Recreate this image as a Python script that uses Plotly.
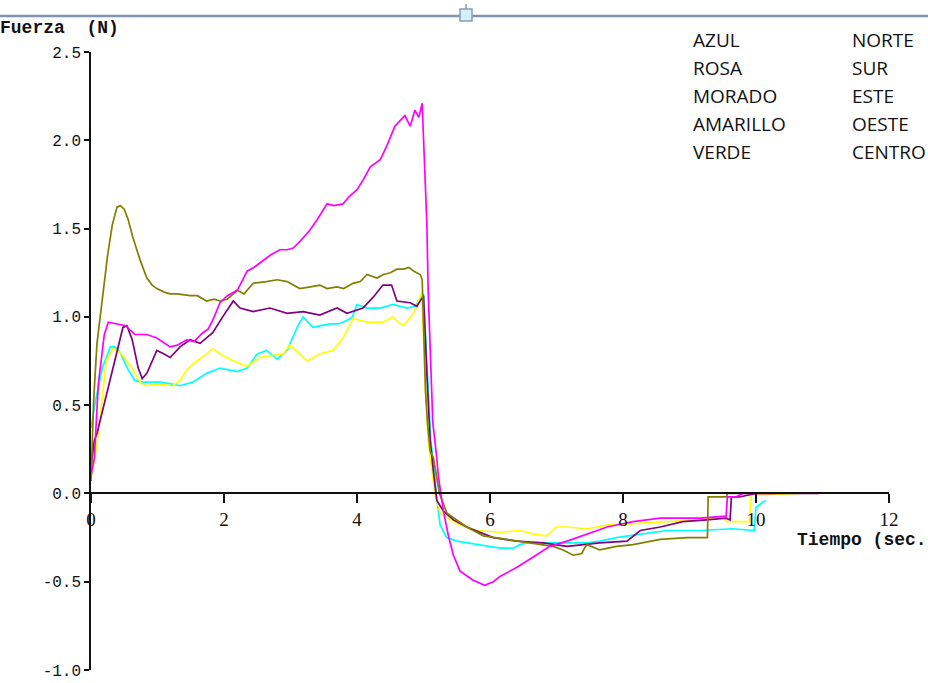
import plotly.graph_objects as go

# ---------------- data ----------------
azul_t = [0, 0.07, 0.17, 0.29, 0.36, 0.42, 0.47, 0.56, 0.66, 0.76, 0.9, 1.04, 1.2, 1.34, 1.53, 1.65, 1.74, 1.94,
          2.05, 2.2, 2.35, 2.5, 2.64, 2.8, 2.95, 3.1, 3.19, 3.27, 3.34, 3.45, 3.6, 3.72, 3.85, 3.93, 4.0, 4.15,
          4.35, 4.54, 4.75, 4.88, 4.95, 5.0, 5.03, 5.07, 5.11, 5.17, 5.2, 5.25, 5.35, 5.5, 5.8, 6.15, 6.35, 6.45,
          6.55, 6.8, 7.16, 7.46, 7.65, 7.9, 8.26, 8.66, 9.16, 9.65, 9.97, 10.0, 10.1, 10.15]
azul_y = [0.37, 0.53, 0.71, 0.83, 0.83, 0.81, 0.77, 0.70, 0.64, 0.63, 0.63, 0.63, 0.62, 0.61, 0.63, 0.66, 0.68, 0.71,
          0.70, 0.69, 0.71, 0.79, 0.81, 0.76, 0.81, 0.94, 1.0, 0.97, 0.94, 0.95, 0.96, 0.96, 0.98, 1.0, 1.07, 1.05,
          1.05, 1.07, 1.05, 1.06, 1.11, 1.13, 0.9, 0.68, 0.3, 0.1, -0.03, -0.18, -0.25, -0.27, -0.29, -0.31, -0.31, -0.29,
          -0.28, -0.28, -0.28, -0.28, -0.27, -0.25, -0.23, -0.21, -0.21, -0.20, -0.21, -0.08, -0.05, -0.04]

rosa_t = [0, 0.05, 0.11, 0.2, 0.26, 0.4, 0.52, 0.66, 0.84, 0.99, 1.1, 1.19, 1.3, 1.44, 1.55, 1.68, 1.76, 1.83, 1.94,
          2.05, 2.2, 2.35, 2.45, 2.59, 2.7, 2.84, 2.95, 3.04, 3.15, 3.29, 3.4, 3.55, 3.65, 3.79, 3.88, 4.0, 4.1, 4.2,
          4.35, 4.45, 4.57, 4.72, 4.8, 4.87, 4.93, 4.98, 5.02, 5.05, 5.07, 5.1, 5.14, 5.2, 5.22, 5.26, 5.3, 5.38,
          5.45, 5.55, 5.74, 5.92, 6.05, 6.15, 6.4, 6.65, 6.9, 7.16, 7.45, 7.76, 8.15, 8.56, 8.9, 9.16, 9.5, 9.55,
          9.57, 9.7, 9.8, 10.0, 10.3]
rosa_y = [0.1, 0.2, 0.62, 0.9, 0.97, 0.96, 0.95, 0.9, 0.9, 0.88, 0.85, 0.83, 0.84, 0.87, 0.86, 0.91, 0.93, 0.98, 1.08,
          1.12, 1.15, 1.26, 1.28, 1.32, 1.35, 1.38, 1.38, 1.39, 1.43, 1.49, 1.55, 1.64, 1.63, 1.64, 1.68, 1.72, 1.78,
          1.85, 1.89, 1.97, 2.08, 2.14, 2.08, 2.17, 2.13, 2.21, 1.81, 1.53, 1.15, 0.77, 0.40, 0.2, 0.11, 0.0, -0.1,
          -0.25, -0.35, -0.44, -0.49, -0.52, -0.50, -0.47, -0.42, -0.36, -0.30, -0.27, -0.23, -0.19, -0.16, -0.14,
          -0.14, -0.14, -0.13, -0.13, -0.02, -0.02, 0.0, 0.0, 0.0]

morado_t = [0, 0.05, 0.09, 0.21, 0.36, 0.48, 0.54, 0.62, 0.71, 0.77, 0.84, 0.92, 0.99, 1.1, 1.19, 1.34, 1.49, 1.64,
            1.83, 1.98, 2.14, 2.24, 2.44, 2.69, 2.95, 3.19, 3.44, 3.7, 3.85, 4.09, 4.24, 4.39, 4.52, 4.6, 4.8, 4.9,
            4.95, 5.0, 5.05, 5.1, 5.15, 5.2, 5.3, 5.45, 5.65, 6.05, 6.4, 6.8, 7.16, 7.4, 7.65, 8.06, 8.26, 8.56,
            8.9, 9.26, 9.55, 9.61, 9.63, 9.75, 10.0, 10.5, 10.95]
morado_y = [0.15, 0.3, 0.34, 0.53, 0.75, 0.94, 0.95, 0.87, 0.71, 0.65, 0.68, 0.75, 0.81, 0.79, 0.77, 0.83, 0.87, 0.85,
            0.91, 1.0, 1.09, 1.05, 1.03, 1.05, 1.02, 1.03, 1.01, 1.05, 1.02, 1.05, 1.11, 1.18, 1.18, 1.09, 1.08, 1.06,
            1.09, 1.12, 0.68, 0.3, 0.12, -0.04, -0.1, -0.15, -0.19, -0.25, -0.27, -0.28, -0.30, -0.29, -0.28, -0.27,
            -0.21, -0.19, -0.16, -0.15, -0.14, -0.15, -0.02, -0.02, 0.0, 0.0, 0.0]

amarillo_t = [0, 0.06, 0.11, 0.18, 0.23, 0.33, 0.4, 0.5, 0.63, 0.74, 0.82, 0.99, 1.23, 1.34, 1.44, 1.59, 1.74, 1.83,
              1.94, 2.14, 2.35, 2.54, 2.74, 2.89, 2.99, 3.14, 3.25, 3.44, 3.64, 3.79, 3.94, 4.15, 4.39, 4.54, 4.62,
              4.7, 4.85, 4.97, 5.0, 5.03, 5.07, 5.12, 5.17, 5.25, 5.5, 5.8, 6.15, 6.45, 6.65, 6.85, 7.0, 7.16, 7.46,
              7.76, 8.15, 8.66, 9.16, 9.5, 9.56, 9.65, 9.9, 9.93, 10.2, 10.66]
amarillo_y = [0.09, 0.2, 0.34, 0.6, 0.75, 0.82, 0.81, 0.77, 0.70, 0.63, 0.61, 0.62, 0.61, 0.64, 0.70, 0.75, 0.79, 0.82,
              0.79, 0.75, 0.72, 0.77, 0.78, 0.79, 0.84, 0.79, 0.75, 0.79, 0.81, 0.88, 0.99, 0.97, 0.97, 1.0, 0.97,
              0.95, 1.02, 1.13, 0.9, 0.58, 0.3, 0.15, 0.0, -0.11, -0.17, -0.21, -0.22, -0.21, -0.23, -0.24, -0.19,
              -0.19, -0.20, -0.18, -0.17, -0.16, -0.15, -0.13, -0.16, -0.16, -0.16, -0.01, -0.005, 0.0]

verde_t = [0, 0.04, 0.09, 0.17, 0.25, 0.32, 0.39, 0.44, 0.5, 0.56, 0.63, 0.74, 0.84, 0.92, 0.99, 1.1, 1.19, 1.3,
           1.49, 1.6, 1.74, 1.85, 1.94, 2.05, 2.2, 2.3, 2.44, 2.64, 2.8, 2.95, 3.05, 3.14, 3.3, 3.44, 3.55, 3.7, 3.8,
           3.94, 4.05, 4.15, 4.3, 4.4, 4.5, 4.6, 4.7, 4.78, 4.85, 4.95, 4.98, 5.0, 5.03, 5.06, 5.1, 5.15, 5.2, 5.24,
           5.35, 5.5, 5.65, 5.9, 6.26, 6.65, 6.95, 7.1, 7.25, 7.38, 7.42, 7.46, 7.65, 7.9, 8.15, 8.56, 8.96, 9.27,
           9.28, 9.56, 9.57, 9.9]
verde_y = [0.07, 0.53, 0.85, 1.09, 1.35, 1.52, 1.62, 1.63, 1.61, 1.55, 1.45, 1.32, 1.22, 1.18, 1.16, 1.14, 1.13, 1.13,
           1.12, 1.12, 1.09, 1.1, 1.09, 1.1, 1.15, 1.13, 1.19, 1.2, 1.21, 1.2, 1.18, 1.16, 1.17, 1.18, 1.16, 1.17, 1.16,
           1.19, 1.2, 1.24, 1.22, 1.24, 1.25, 1.27, 1.27, 1.28, 1.26, 1.24, 1.21, 0.96, 0.58, 0.40, 0.24, 0.2, 0.1, 0.0,
           -0.11, -0.15, -0.19, -0.24, -0.26, -0.28, -0.30, -0.32, -0.35, -0.34, -0.31, -0.29, -0.32, -0.30, -0.29,
           -0.26, -0.25, -0.25, -0.02, -0.02, 0.0, 0.0]

y_ticks = [-1.0, -0.5, 0.0, 0.5, 1.0, 1.5, 2.0, 2.5]
y_ticktext = ["-1.0", "-0.5", "0.0", "0.5", "1.0", "1.5", "2.0", "2.5"]
x_ticks = [0, 2, 4, 6, 8, 10, 12]

legend_left = ["AZUL", "ROSA", "MORADO", "AMARILLO", "VERDE"]
legend_right = ["NORTE", "SUR", "ESTE", "OESTE", "CENTRO"]

# ---------------- figure ----------------
W, H = 928, 683
ML, MR, MT, MB = 91, 39, 52, 13
PW, PH = W - ML - MR, H - MT - MB

def px(x):
    return (x - ML) / PW

def py(y):
    return (H - MB - y) / PH

fig = go.Figure()
series = [
    (azul_t, azul_y, "#00FFFF", "AZUL"),
    (amarillo_t, amarillo_y, "#FFFF00", "AMARILLO"),
    (morado_t, morado_y, "#800080", "MORADO"),
    (verde_t, verde_y, "#808000", "VERDE"),
    (rosa_t, rosa_y, "#FF00FF", "ROSA"),
]
for t, y, c, n in series:
    fig.add_trace(go.Scatter(x=t, y=y, mode="lines", name=n,
                             line=dict(color=c, width=1.7), showlegend=False))

ymin, ymax = -1.0, 2.5
fig.update_layout(
    width=W, height=H, autosize=False,
    margin=dict(l=ML, r=MR, t=MT, b=MB),
    paper_bgcolor="white", plot_bgcolor="white",
    xaxis=dict(range=[0, 12], tickvals=x_ticks, showgrid=False, zeroline=False,
               showline=True, linecolor="#111", linewidth=1.5, automargin=False,
               ticks="outside", ticklen=9, tickwidth=1.5, tickcolor="#111",
               tickfont=dict(family="Liberation Serif", size=19, color="#111"),
               anchor="free", position=(0 - ymin) / (ymax - ymin)),
    yaxis=dict(range=[ymin, ymax], tickvals=y_ticks, ticktext=y_ticktext, showgrid=False,
               zeroline=False, showline=True, linecolor="#111", linewidth=1.5, automargin=False,
               ticks="outside", ticklen=5, tickwidth=1.5, tickcolor="#111",
               tickfont=dict(family="Liberation Mono", size=16, color="#111")),
)

ann = []
ann.append(dict(text="<b>Fuerza  (N)</b>", xref="paper", yref="paper", x=px(121), y=py(28),
                xanchor="right", yanchor="middle", showarrow=False,
                font=dict(family="Liberation Mono", size=18, color="#111")))
ann.append(dict(text="<b>Tiempo (sec.</b>", xref="paper", yref="paper", x=px(795), y=py(540),
                xanchor="left", yanchor="middle", showarrow=False,
                font=dict(family="Liberation Mono", size=18, color="#111")))
for i, (a, b) in enumerate(zip(legend_left, legend_right)):
    yy = py(40 + 28 * i)
    ann.append(dict(text=a, xref="paper", yref="paper", x=px(691), y=yy, xanchor="left",
                    yanchor="middle", showarrow=False,
                    font=dict(family="Open Sans", size=19, color="#111")))
    ann.append(dict(text=b, xref="paper", yref="paper", x=px(850), y=yy, xanchor="left",
                    yanchor="middle", showarrow=False,
                    font=dict(family="Open Sans", size=19, color="#111")))
fig.update_layout(annotations=ann)

shapes = [
    dict(type="line", xref="paper", yref="paper", x0=px(0), x1=px(W), y0=py(16), y1=py(16),
         line=dict(color="#7F93B2", width=2.5)),
    dict(type="line", xref="paper", yref="paper", x0=px(466), x1=px(466), y0=py(4), y1=py(10),
         line=dict(color="#8A9CB5", width=1.5)),
    dict(type="rect", xref="paper", yref="paper", x0=px(460), x1=px(472), y0=py(21), y1=py(9),
         line=dict(color="#8A9CB5", width=1.5), fillcolor="#D2F1FB"),
]
fig.update_layout(shapes=shapes)

fig.write_html("out.html")
